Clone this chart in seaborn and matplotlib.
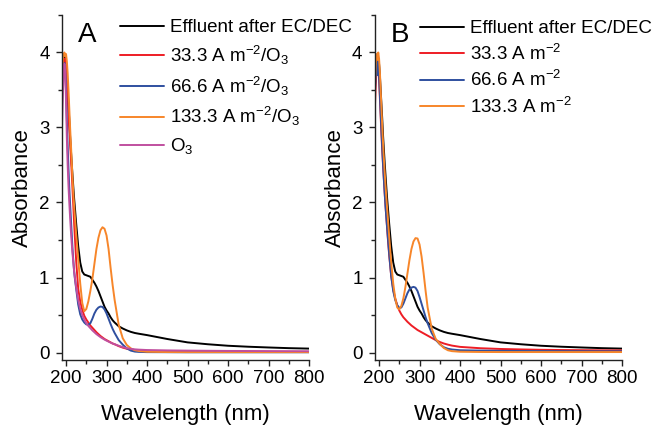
import matplotlib
matplotlib.use("Agg")
import matplotlib.pyplot as plt
from matplotlib.ticker import MultipleLocator
import seaborn as sns
import pandas as pd

# Wavelength grid (nm)
wavelength = [190, 192, 194, 196, 198, 200, 202, 204, 206, 208, 210, 212, 214, 216, 218,
              220, 222, 225, 230, 235, 240, 245, 250, 255, 260, 265, 270, 275, 280, 285,
              290, 295, 300, 305, 310, 315, 320, 330, 340, 350, 360, 370, 380, 400, 450,
              500, 550, 600, 650, 700, 750, 800]

# Raw effluent after EC/DEC (shared by both panels)
effluent = [3.55, 3.8, 3.92, 3.95, 3.9, 3.85, 3.7, 3.5, 3.3, 3.1, 2.88, 2.7, 2.52, 2.36, 2.2,
            2.05, 1.92, 1.72, 1.42, 1.2, 1.08, 1.04, 1.03, 1.02, 1.01, 0.97, 0.93, 0.88, 0.82, 0.75,
            0.68, 0.61, 0.56, 0.52, 0.47, 0.43, 0.40, 0.35, 0.32, 0.295, 0.275, 0.26, 0.25, 0.232, 0.18,
            0.135, 0.11, 0.09, 0.077, 0.067, 0.058, 0.052]

# Panel A: electrolysis combined with ozone
a_33_o3 = [3.5, 3.75, 3.9, 3.88, 3.92, 3.8, 3.6, 3.4, 3.2, 3.0, 2.8, 2.6, 2.4, 2.17, 1.95,
           1.72, 1.52, 1.22, 0.85, 0.68, 0.57, 0.49, 0.44, 0.40, 0.36, 0.33, 0.30, 0.27, 0.245, 0.22,
           0.20, 0.18, 0.165, 0.15, 0.135, 0.12, 0.11, 0.085, 0.065, 0.05, 0.04, 0.033, 0.028, 0.022, 0.016,
           0.013, 0.011, 0.01, 0.009, 0.008, 0.008, 0.007]
a_66_o3 = [3.3, 3.65, 3.82, 3.86, 3.78, 3.5, 3.1, 2.75, 2.45, 2.2, 1.98, 1.78, 1.58, 1.38, 1.22,
           1.08, 0.98, 0.85, 0.64, 0.51, 0.44, 0.40, 0.375, 0.37, 0.39, 0.45, 0.52, 0.57, 0.60, 0.613,
           0.608, 0.575, 0.52, 0.45, 0.38, 0.315, 0.26, 0.165, 0.105, 0.055, 0.025, 0.012, 0.008, 0.005, 0.004,
           0.003, 0.003, 0.003, 0.003, 0.003, 0.003, 0.003]
a_133_o3 = [3.7, 3.9, 3.97, 4.0, 3.95, 3.98, 3.88, 3.72, 3.5, 3.25, 3.0, 2.78, 2.55, 2.32, 2.12,
            1.95, 1.8, 1.58, 1.25, 0.92, 0.66, 0.55, 0.58, 0.68, 0.82, 0.98, 1.18, 1.38, 1.53, 1.63,
            1.67, 1.65, 1.56, 1.38, 1.13, 0.9, 0.7, 0.37, 0.19, 0.1, 0.055, 0.03, 0.02, 0.01, 0.006,
            0.005, 0.005, 0.005, 0.005, 0.005, 0.005, 0.005]
a_o3 = [3.0, 3.4, 3.72, 3.85, 3.75, 3.35, 2.85, 2.5, 2.22, 2.0, 1.8, 1.62, 1.46, 1.32, 1.2,
        1.08, 0.99, 0.87, 0.7, 0.58, 0.5, 0.44, 0.39, 0.355, 0.325, 0.295, 0.27, 0.245, 0.225, 0.205,
        0.188, 0.172, 0.158, 0.145, 0.132, 0.12, 0.11, 0.09, 0.072, 0.058, 0.048, 0.042, 0.038, 0.033, 0.028,
        0.025, 0.023, 0.021, 0.02, 0.019, 0.018, 0.017]

# Panel B: electrolysis only
b_33 = [3.3, 3.6, 3.78, 3.7, 3.82, 3.65, 3.4, 3.15, 2.9, 2.68, 2.48, 2.3, 2.12, 1.95, 1.8,
        1.65, 1.5, 1.3, 1.02, 0.84, 0.72, 0.63, 0.56, 0.51, 0.47, 0.44, 0.41, 0.385, 0.36, 0.34,
        0.32, 0.3, 0.285, 0.27, 0.255, 0.24, 0.225, 0.195, 0.165, 0.14, 0.12, 0.105, 0.092, 0.075, 0.057,
        0.047, 0.041, 0.036, 0.033, 0.031, 0.029, 0.028]
b_66 = [3.5, 3.72, 3.85, 3.7, 3.88, 3.7, 3.45, 3.2, 2.95, 2.72, 2.5, 2.3, 2.12, 1.95, 1.8,
        1.66, 1.52, 1.32, 1.02, 0.82, 0.7, 0.63, 0.595, 0.6, 0.65, 0.72, 0.79, 0.84, 0.865, 0.875,
        0.865, 0.82, 0.74, 0.65, 0.56, 0.47, 0.39, 0.26, 0.17, 0.11, 0.07, 0.05, 0.04, 0.03, 0.025,
        0.022, 0.02, 0.019, 0.018, 0.017, 0.016, 0.016]
b_133 = [3.6, 3.85, 3.98, 3.9, 4.0, 3.92, 3.75, 3.5, 3.25, 3.0, 2.78, 2.58, 2.4, 2.23, 2.07,
         1.92, 1.78, 1.55, 1.2, 0.92, 0.72, 0.6, 0.575, 0.62, 0.72, 0.87, 1.05, 1.23, 1.38, 1.48,
         1.525, 1.52, 1.44, 1.28, 1.06, 0.82, 0.6, 0.32, 0.18, 0.115, 0.06, 0.03, 0.018, 0.01, 0.007,
         0.006, 0.006, 0.006, 0.006, 0.006, 0.006, 0.006]

labels_a = ["Effluent after EC/DEC",
            r"33.3 A m$^{-2}$/O$_{3}$",
            r"66.6 A m$^{-2}$/O$_{3}$",
            r"133.3 A m$^{-2}$/O$_{3}$",
            r"O$_{3}$"]
labels_b = ["Effluent after EC/DEC",
            r"33.3 A m$^{-2}$",
            r"66.6 A m$^{-2}$",
            r"133.3 A m$^{-2}$"]

BLACK = "#000000"
RED = "#ee1d25"
BLUE = "#2f4f9f"
ORANGE = "#f7862a"
MAGENTA = "#c04f9f"

sns.set_style("ticks")
plt.rcParams["font.family"] = ["Liberation Sans", "DejaVu Sans"]
plt.rcParams["mathtext.fontset"] = "custom"
plt.rcParams["mathtext.rm"] = "Liberation Sans"
plt.rcParams["mathtext.it"] = "Liberation Sans"
plt.rcParams["mathtext.default"] = "regular"
plt.rcParams["text.color"] = "black"
plt.rcParams["axes.labelcolor"] = "black"
plt.rcParams["xtick.color"] = "black"
plt.rcParams["ytick.color"] = "black"

fig = plt.figure(figsize=(6.54, 4.29), dpi=100)
W, H = 654, 429
ax_w, ax_h = 247 / W, 345 / H
bottom = 1 - 360 / H
ax_a = fig.add_axes([62 / W, bottom, ax_w, ax_h])
ax_b = fig.add_axes([375 / W, bottom, ax_w, ax_h])

panel_a = [(effluent, BLACK), (a_33_o3, RED), (a_66_o3, BLUE), (a_133_o3, ORANGE), (a_o3, MAGENTA)]
panel_b = [(effluent, BLACK), (b_33, RED), (b_66, BLUE), (b_133, ORANGE)]

LW = 1.4
for ax, series, labels in [(ax_a, panel_a, labels_a), (ax_b, panel_b, labels_b)]:
    for (vals, col), lab in zip(series, labels):
        df = pd.DataFrame({"Wavelength": wavelength, "Absorbance": vals})
        sns.lineplot(data=df, x="Wavelength", y="Absorbance", color=col, lw=LW,
                     label=lab, ax=ax, estimator=None, sort=False)

legend_spec = {
    "A": dict(x=120 / W, y=1 - 19 / H, spacing=0.41),
    "B": dict(x=420 / W, y=1 - 20 / H, spacing=0.34),
}

for ax, letter in [(ax_a, "A"), (ax_b, "B")]:
    ax.set_xlim(190, 800)
    ax.set_ylim(-0.1, 4.5)
    ax.xaxis.set_major_locator(MultipleLocator(100))
    ax.xaxis.set_minor_locator(MultipleLocator(50))
    ax.yaxis.set_major_locator(MultipleLocator(1))
    ax.yaxis.set_minor_locator(MultipleLocator(0.5))
    ax.tick_params(axis="both", which="major", direction="out", length=4, width=1.0,
                   labelsize=13.5, color="#222222", labelcolor="black")
    ax.tick_params(axis="both", which="minor", direction="out", length=3, width=1.0,
                   color="#222222")
    ax.tick_params(axis="x", which="major", pad=3.5)
    ax.tick_params(axis="y", which="major", pad=5)
    for side in ("top", "right"):
        ax.spines[side].set_visible(False)
    for side in ("left", "bottom"):
        ax.spines[side].set_linewidth(1.0)
        ax.spines[side].set_color("#222222")
    ax.set_xlabel("Wavelength (nm)", fontsize=16, labelpad=12, color="black")
    ax.set_ylabel("Absorbance", fontsize=16, labelpad=4, color="black")
    ax.text(0.065, 0.98, letter, transform=ax.transAxes, fontsize=20,
            ha="left", va="top", color="black")
    spec = legend_spec[letter]
    leg = ax.legend(loc="upper left", bbox_to_anchor=(spec["x"], spec["y"]),
                    bbox_transform=fig.transFigure, frameon=False, fontsize=13.5,
                    handlelength=2.35, handletextpad=0.3, labelspacing=spec["spacing"],
                    borderpad=0, borderaxespad=0)
    for text in leg.get_texts():
        text.set_color("black")
    for line in leg.get_lines():
        line.set_linewidth(1.4)

fig.savefig("out.png", dpi=100)
